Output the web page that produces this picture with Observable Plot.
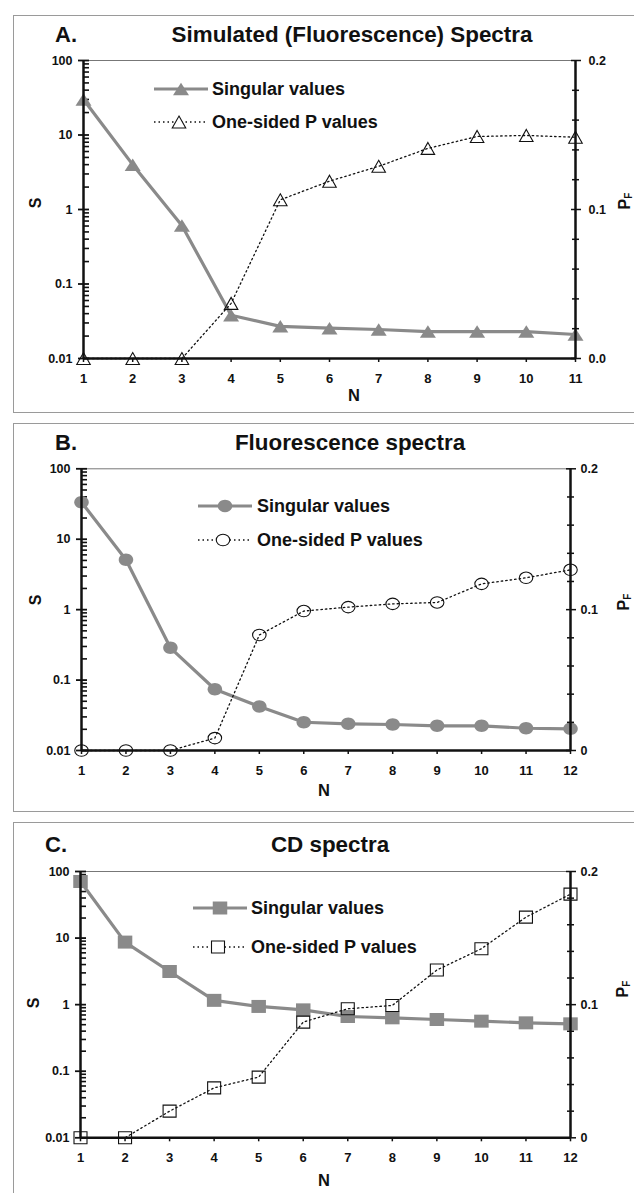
<!DOCTYPE html>
<html><head><meta charset="utf-8">
<script src="https://cdn.jsdelivr.net/npm/d3@7"></script>
<script src="https://cdn.jsdelivr.net/npm/@observablehq/plot@0.6"></script>
<style>
body{margin:0;background:#fff;}
#root{position:relative;width:634px;height:1193px;overflow:hidden;font-family:"Liberation Sans",Arial,Helvetica,sans-serif;font-weight:bold;color:#111;}
.frame{position:absolute;left:13px;right:-10px;border:1.5px solid #9a9a9a;border-right:none;}
.t{position:absolute;white-space:nowrap;line-height:1;}
.layer{position:absolute;left:0;}
</style></head><body><div id="root"></div>
<script>
// ---------- data ----------
const nA = [1,2,3,4,5,6,7,8,9,10,11];
const singularA = [30, 4.0, 0.61, 0.038, 0.027, 0.0255, 0.0245, 0.023, 0.023, 0.023, 0.021];
const pValuesA = [0, 0, 0, 0.037, 0.1065, 0.119, 0.129, 0.141, 0.149, 0.1497, 0.1485];

const nB = [1,2,3,4,5,6,7,8,9,10,11,12];
const singularB = [33.6, 5.1, 0.287, 0.074, 0.042, 0.0252, 0.0239, 0.0234, 0.0224, 0.0224, 0.0207, 0.0203];
const pValuesB = [0, 0, 0, 0.0088, 0.082, 0.099, 0.1018, 0.1041, 0.1051, 0.1183, 0.1226, 0.1283];

const nC = [1,2,3,4,5,6,7,8,9,10,11,12];
const singularC = [70.8, 8.7, 3.15, 1.16, 0.94, 0.835, 0.664, 0.634, 0.598, 0.565, 0.533, 0.515];
const pValuesC = [0, 0, 0.02, 0.0375, 0.0456, 0.0869, 0.0969, 0.0994, 0.126, 0.142, 0.1657, 0.183];

const leftTicks = [0.01, 0.1, 1, 10, 100];
const leftTickLabels = ["0.01", "0.1", "1", "10", "100"];
const rightTicks = [0, 0.1, 0.2];
const rightTickLabelsA = ["0.0", "0.1", "0.2"];
const rightTickLabelsBC = ["0", "0.1", "0.2"];
const rightMinorTicks = [0.02, 0.04, 0.06, 0.08, 0.12, 0.14, 0.16, 0.18];
const leftMinorTicks = [0.01, 0.1, 1, 10].flatMap(d => [2,3,4,5,6,7,8,9].map(k => +(d * k).toPrecision(3)));

const titles = ["Simulated (Fluorescence) Spectra", "Fluorescence spectra", "CD spectra"];
const letters = ["A.", "B.", "C."];
const legendLabels = ["Singular values", "One-sided P values"];
const xLabel = "N", sLabel = "S", pLabel = "P", pSub = "F";

// ---------- styling / layout ----------
const GRAY = "#8a8a8a", INK = "#111";
const FONT = '"Liberation Sans", Arial, Helvetica, sans-serif';

function shape(kind, w, h) {
  return {draw(ctx) {
    if (kind === "triangle") { ctx.moveTo(0, -h/2); ctx.lineTo(w/2, h/2); ctx.lineTo(-w/2, h/2); ctx.closePath(); }
    else if (kind === "circle") {
      const a = w/2, b = h/2, k = 0.5523;
      ctx.moveTo(a, 0);
      ctx.bezierCurveTo(a, k*b, k*a, b, 0, b);
      ctx.bezierCurveTo(-k*a, b, -a, k*b, -a, 0);
      ctx.bezierCurveTo(-a, -k*b, -k*a, -b, 0, -b);
      ctx.bezierCurveTo(k*a, -b, a, -k*b, a, 0);
      ctx.closePath();
    } else { ctx.rect(-w/2, -h/2, w, h); }
  }};
}

const panels = [
  {n: nA, s: singularA, p: pValuesA, rl: rightTickLabelsA, filled: shape("triangle", 16, 12.5), open: shape("triangle", 13.5, 12),
   top: 0, h: 411, mt: 60, mb: 53, ml: 83, mr: 59, rpad: 8, ftop: 15, fbot: 411,
   title: {x: 352, y: 35}, letter: {x: 55, y: 35}, leg: {x0: 154, y1: 89, y2: 122, tx: 212},
   sl: {x: 36, y: 203}, pl: {x: 625, y: 201}, nl: {x: 354, y: 395}},
  {n: nB, s: singularB, p: pValuesB, rl: rightTickLabelsBC, filled: shape("circle", 14.5, 12.5), open: shape("circle", 13.5, 11.5),
   top: 411, h: 399, mt: 57.3, mb: 60, ml: 81, mr: 64, rpad: 5, ftop: 423, fbot: 810,
   title: {x: 350, y: 443}, letter: {x: 55, y: 443}, leg: {x0: 198, y1: 506, y2: 540, tx: 257},
   sl: {x: 36, y: 600}, pl: {x: 624, y: 602}, nl: {x: 324, y: 790}},
  {n: nC, s: singularC, p: pValuesC, rl: rightTickLabelsBC, filled: shape("square", 14.5, 13), open: shape("square", 13, 12),
   top: 810, h: 383, mt: 61, mb: 55.7, ml: 80, mr: 64, rpad: 5, ftop: 822, fbot: 1260,
   title: {x: 330, y: 845}, letter: {x: 45, y: 845}, leg: {x0: 193, y1: 908, y2: 947, tx: 251},
   sl: {x: 34, y: 1003}, pl: {x: 623, y: 989}, nl: {x: 324, y: 1180}}
];

const root = document.getElementById("root");
function addText(txt, x, y, size, align, rotate) {
  const el = document.createElement("div");
  el.className = "t";
  el.style.left = x + "px"; el.style.top = y + "px"; el.style.fontSize = size + "px";
  const tx = align === "center" ? "-50%" : "0";
  el.style.transform = `translate(${tx},-50%)` + (rotate ? " rotate(-90deg)" : "");
  if (typeof txt === "string") el.textContent = txt; else el.appendChild(txt);
  root.appendChild(el);
  return el;
}
function symbolPath(sym) { const p = d3.path(); sym.draw(p); return p.toString(); }

panels.forEach((cfg, idx) => {
  const fr = document.createElement("div");
  fr.className = "frame"; fr.style.top = cfg.ftop + "px"; fr.style.height = (cfg.fbot - cfg.ftop) + "px";
  root.appendChild(fr);

  const nmax = cfg.n[cfg.n.length - 1];
  const rowsS = cfg.n.map((n, i) => ({n, v: cfg.s[i]}));
  const rowsP = cfg.n.map((n, i) => ({n, v: cfg.p[i]}));
  const common = {
    width: 634, height: cfg.h, marginTop: cfg.mt, marginBottom: cfg.mb, marginLeft: cfg.ml, marginRight: cfg.mr,
    style: {background: "transparent", fontFamily: FONT, fontWeight: "bold", fontSize: "12.5px", color: INK, overflow: "visible"},
    x: {type: "linear", domain: [1, nmax]}
  };
  const leftMap = new Map(leftTicks.map((d, i) => [d, leftTickLabels[i]]));
  const rightMap = new Map(rightTicks.map((d, i) => [d, cfg.rl[i]]));

  const sPlot = Plot.plot({
    ...common,
    y: {type: "log", domain: [0.01, 100]},
    marks: [
      Plot.ruleY([100], {stroke: "#777", strokeWidth: 1}),
      Plot.axisY(leftMinorTicks, {anchor: "left", tickSize: 6, dx: 6, tickFormat: () => "", label: null, stroke: INK, strokeWidth: 1.6}),
      Plot.axisY(leftTicks, {anchor: "left", tickSize: 6, dx: 6, tickFormat: () => "", label: null, stroke: INK, strokeWidth: 1.8}),
      Plot.axisY(leftTicks, {anchor: "left", tickSize: 5, tickPadding: 6, tickFormat: d => leftMap.get(d), label: null, stroke: INK, strokeWidth: 1.8}),
      Plot.axisX(cfg.n, {anchor: "bottom", tickSize: 4, tickPadding: 11, tickFormat: d => String(d), label: null, stroke: INK, strokeWidth: 1.5, fontSize: 13}),
      Plot.line(rowsS, {x: "n", y: "v", stroke: GRAY, strokeWidth: 3.2}),
      Plot.dot(rowsS, {x: "n", y: "v", symbol: cfg.filled, r: 6, fill: GRAY, stroke: "none"}),
      Plot.ruleX([1], {stroke: INK, strokeWidth: 2.5}),
      Plot.ruleY([0.01], {stroke: INK, strokeWidth: 2.5})
    ]
  });
  sPlot.classList.add("layer"); sPlot.style.top = cfg.top + "px";
  root.appendChild(sPlot);

  const pPlot = Plot.plot({
    ...common,
    x: {...common.x, axis: null},
    y: {type: "linear", domain: [0, 0.2]},
    marks: [
      Plot.axisY(rightMinorTicks, {anchor: "right", tickSize: 3, tickFormat: () => "", label: null, stroke: INK, strokeWidth: 1.5}),
      Plot.axisY(rightMinorTicks, {anchor: "right", tickSize: 4, dx: -4, tickFormat: () => "", label: null, stroke: INK, strokeWidth: 1.5}),
      Plot.axisY(rightTicks, {anchor: "right", tickSize: 5, dx: -5, tickFormat: () => "", label: null, stroke: INK, strokeWidth: 1.5}),
      Plot.axisY(rightTicks, {anchor: "right", tickSize: 5, tickPadding: cfg.rpad, tickFormat: d => rightMap.get(d), label: null, stroke: INK, strokeWidth: 1.5}),
      Plot.line(rowsP, {x: "n", y: "v", stroke: INK, strokeWidth: 1.3, strokeDasharray: "1.5,3"}),
      Plot.dot(rowsP, {x: "n", y: "v", symbol: cfg.open, r: 6, fill: "none", stroke: INK, strokeWidth: 1.1}),
      Plot.ruleX([nmax], {stroke: INK, strokeWidth: 2.5})
    ]
  });
  pPlot.classList.add("layer"); pPlot.style.top = cfg.top + "px";
  root.appendChild(pPlot);

  addText(titles[idx], cfg.title.x, cfg.title.y, 22.4, "center");
  addText(letters[idx], cfg.letter.x, cfg.letter.y, 22, "left");
  addText(xLabel, cfg.nl.x, cfg.nl.y, 16.5, "center");
  addText(sLabel, cfg.sl.x, cfg.sl.y, 16, "center", true);
  const pf = document.createElement("span");
  pf.innerHTML = `${pLabel}<sub style="font-size:10px;vertical-align:-2px">${pSub}</sub>`;
  addText(pf, cfg.pl.x, cfg.pl.y, 16, "center", true);

  const L = cfg.leg;
  const lg = d3.select(root).append("svg").attr("class", "layer")
    .style("top", "0px").attr("width", 634).attr("height", 1193).style("pointer-events", "none")
    .style("overflow", "visible");
  lg.append("line").attr("x1", L.x0).attr("x2", L.x0 + 54).attr("y1", L.y1).attr("y2", L.y1)
    .attr("stroke", GRAY).attr("stroke-width", 3.2);
  lg.append("path").attr("d", symbolPath(cfg.filled)).attr("transform", `translate(${L.x0 + 27},${L.y1})`).attr("fill", GRAY);
  lg.append("line").attr("x1", L.x0).attr("x2", L.x0 + 54).attr("y1", L.y2).attr("y2", L.y2)
    .attr("stroke", INK).attr("stroke-width", 1.3).attr("stroke-dasharray", "1.5,3");
  lg.append("path").attr("d", symbolPath(cfg.open)).attr("transform", `translate(${L.x0 + 25},${L.y2})`)
    .attr("fill", "white").attr("stroke", INK).attr("stroke-width", 1.1);
  addText(legendLabels[0], L.tx, L.y1, 18, "left");
  addText(legendLabels[1], L.tx, L.y2, 18, "left");
});
</script></body></html>
